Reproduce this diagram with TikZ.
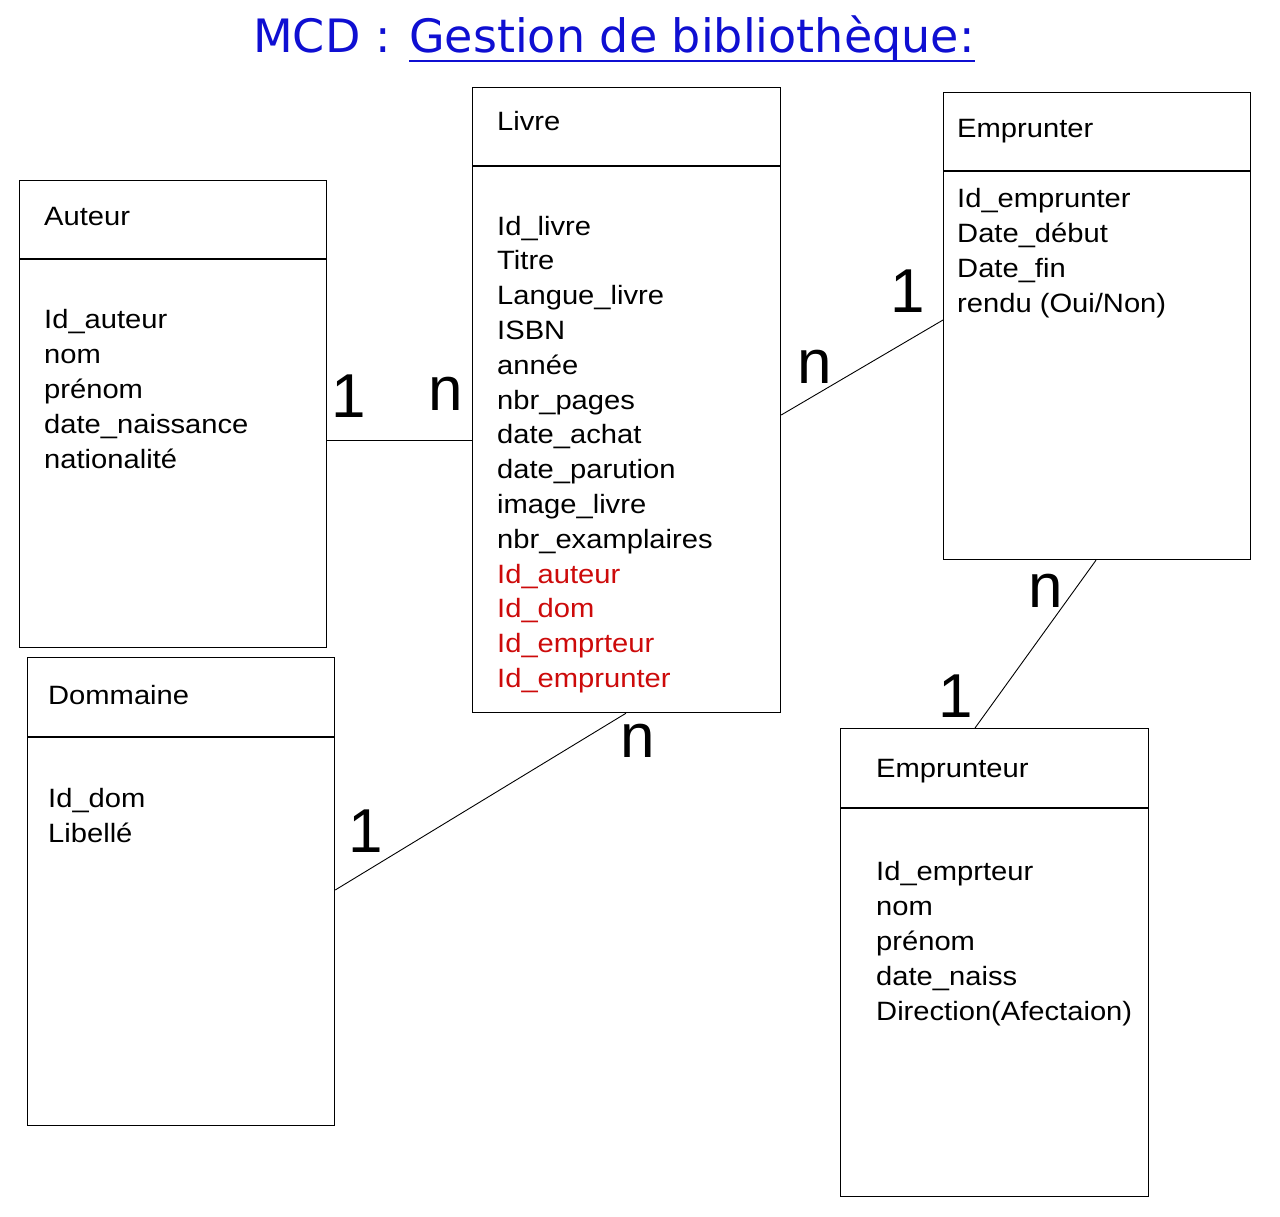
\documentclass[tikz,border=0pt]{standalone}
\usepackage{fontspec}
\newfontfamily\libsans[FakeStretch=1.1]{Liberation Sans}
\newfontfamily\libplain{Liberation Sans}
\newfontfamily\dejasans{DejaVu Sans}
\newcommand\attrfont{\libsans\fontsize{26.5}{35}\selectfont}
\newcommand\cardfont{\libplain\fontsize{62}{70}\selectfont}
\newcommand\titlefont{\dejasans\fontsize{46}{54}\selectfont}
\definecolor{titleblue}{RGB}{15,15,210}
\definecolor{fkred}{RGB}{205,10,10}
\tikzset{
  box/.style={draw, line width=1.2pt, rectangle, inner sep=0pt, anchor=north west},
  divider/.style={line width=1.1pt},
  attr/.style={anchor=base west, inner sep=0pt, font=\attrfont},
  fk/.style={attr, text=fkred},
  card/.style={anchor=base, inner sep=0pt, font=\cardfont},
  link/.style={line width=0.9pt},
  ttl/.style={anchor=base west, inner sep=0pt, font=\titlefont, text=titleblue}
}
\begin{document}
\begin{tikzpicture}[x=1pt,y=-1pt]
\fill[white] (0,0) rectangle (1280,1216);
\useasboundingbox (0,0) rectangle (1280,1216);

% title
\node[ttl] (t1) at (253,52) {MCD :};
\node[ttl] (t2) at (409,52) {Gestion de bibliothèque:};
\draw[titleblue, line width=1.2pt] (t2.base west) ++(0,9) coordinate (u1) -- (u1 -| t2.base east);

% boxes
\node[box, minimum width=307pt, minimum height=467pt] (auteur) at (19,180) {};
\node[box, minimum width=308pt, minimum height=625pt] (livre) at (472,87) {};
\node[box, minimum width=307pt, minimum height=467pt] (emprunter) at (943,92) {};
\node[box, minimum width=307pt, minimum height=468pt] (dommaine) at (27,657) {};
\node[box, minimum width=308pt, minimum height=468pt] (emprunteur) at (840,728) {};

% dividers
\draw[divider] (auteur.west |- 0,259) -- (auteur.east |- 0,259);
\draw[divider] (livre.west |- 0,166) -- (livre.east |- 0,166);
\draw[divider] (emprunter.west |- 0,171) -- (emprunter.east |- 0,171);
\draw[divider] (dommaine.west |- 0,737) -- (dommaine.east |- 0,737);
\draw[divider] (emprunteur.west |- 0,808) -- (emprunteur.east |- 0,808);

% titles of entities
\node[attr] (auteur-t) at (44,225) {Auteur};
\node[attr] (livre-t) at (497,130) {Livre};
\node[attr] (emprunter-t) at (957,137) {Emprunter};
\node[attr] (dommaine-t) at (48,704) {Dommaine};
\node[attr] (emprunteur-t) at (876,777) {Emprunteur};

% attributes
\foreach \t [count=\i from 0] in {Id\_auteur,nom,prénom,date\_naissance,nationalité}
  \node[attr] (auteur-a\i) at (44,328+35*\i) {\t};
\foreach \t [count=\i from 0] in {Id\_livre,Titre,Langue\_livre,ISBN,année,nbr\_pages,date\_achat,date\_parution,image\_livre,nbr\_examplaires}
  \node[attr] (livre-a\i) at (497,235+34.8*\i) {\t};
\foreach \t [count=\i from 10] in {Id\_auteur,Id\_dom,Id\_emprteur,Id\_emprunter}
  \node[fk] (livre-a\i) at (497,235+34.8*\i) {\t};
\foreach \t [count=\i from 0] in {Id\_emprunter,Date\_début,Date\_fin,rendu (Oui/Non)}
  \node[attr] (emprunter-a\i) at (957,207+35*\i) {\t};
\foreach \t [count=\i from 0] in {Id\_dom,Libellé}
  \node[attr] (dommaine-a\i) at (48,807+35*\i) {\t};
\foreach \t [count=\i from 0] in {Id\_emprteur,nom,prénom,date\_naiss,Direction(Afectaion)}
  \node[attr] (emprunteur-a\i) at (876,880+35*\i) {\t};

% connectors
\draw[link] (auteur.east |- 0,440) -- (livre.west |- 0,440);
\draw[link] (livre.east |- 0,415) -- (emprunter.west |- 0,320);
\draw[link] (livre.south -| 626,0) -- (dommaine.east |- 0,890);
\draw[link] (emprunter.south -| 1096,0) -- (emprunteur.north -| 975,0);

% cardinalities
\node[card] (c1) at (349,417) {1};
\node[card] (c2) at (446,410) {n};
\node[card] (c3) at (815,383) {n};
\node[card] (c4) at (908,312) {1};
\node[card] (c5) at (1046,607) {n};
\node[card] (c6) at (956,717) {1};
\node[card] (c7) at (638,757) {n};
\node[card] (c8) at (366,852) {1};
\end{tikzpicture}
\end{document}
